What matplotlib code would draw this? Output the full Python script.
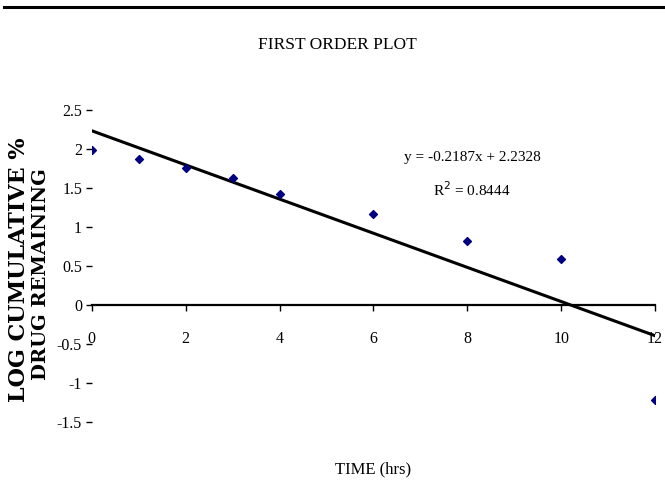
import matplotlib
matplotlib.use("Agg")
import matplotlib.pyplot as plt
from matplotlib.lines import Line2D
import numpy as np

# Data
time_hrs = [0, 1, 2, 3, 4, 6, 8, 10, 12]
log_remaining = [1.99, 1.87, 1.75, 1.63, 1.42, 1.17, 0.82, 0.59, -1.22]
fit_slope = -0.2187
fit_intercept = 2.2328
fit_r2 = 0.8444
x_ticks = [0, 2, 4, 6, 8, 10, 12]
y_ticks = [-1.5, -1, -0.5, 0, 0.5, 1, 1.5, 2, 2.5]
y_tick_labels = ["-1.5", "-1", "-0.5", "0", "0.5", "1", "1.5", "2", "2.5"]

plt.rcParams['font.family'] = ['Liberation Serif', 'DejaVu Serif']

fig = plt.figure(figsize=(6.65, 4.95), dpi=100)
ax = fig.add_axes([0.138, 0.147, 0.847, 0.631])

ax.scatter(time_hrs, log_remaining, marker='D', s=16, color='#000080', zorder=3)
fx = np.array([min(time_hrs), max(time_hrs)])
ax.plot(fx, fit_slope * fx + fit_intercept, color='black', lw=2.2, zorder=2)

ax.set_xlim(0, 12)
ax.set_ylim(-1.5, 2.5)
ax.spines['top'].set_visible(False)
ax.spines['right'].set_visible(False)
ax.spines['left'].set_visible(False)
ax.spines['bottom'].set_position(('data', 0))
ax.spines['bottom'].set_linewidth(1.6)

ax.set_xticks(x_ticks)
ax.set_xticklabels([str(t) for t in x_ticks])
ax.set_yticks(y_ticks)
ax.set_yticklabels(y_tick_labels)
ax.tick_params(axis='x', direction='out', length=4, width=1, pad=15, labelsize=11.5)
ax.tick_params(axis='y', direction='out', length=4, width=1, pad=3, labelsize=11.5)

eq = f"y = {fit_slope}x + {fit_intercept}"
ax.text(8.1, 1.885, eq, ha='center', va='center', fontsize=11)
ax.text(8.1, 1.474, f"R$^2$ = {fit_r2}", ha='center', va='center', fontsize=11)

fig.text(0.508, 0.909, "FIRST ORDER PLOT", ha='center', va='center', fontsize=12.5)
fig.text(0.561, 0.0525, "TIME (hrs)", ha='center', va='center', fontsize=12)
fig.text(0.028, 0.4545, "LOG CUMULATIVE %", rotation=90, ha='center', va='center',
         fontsize=16, fontweight='bold', family=['DejaVu Serif'])
fig.text(0.062, 0.446, "DRUG REMAINING", rotation=90, ha='center', va='center',
         fontsize=14, fontweight='bold', family=['DejaVu Serif'])

fig.add_artist(Line2D([0.006, 1.0], [0.986, 0.986], transform=fig.transFigure,
                      color='black', lw=2.2))

fig.savefig("out.png", dpi=100)
